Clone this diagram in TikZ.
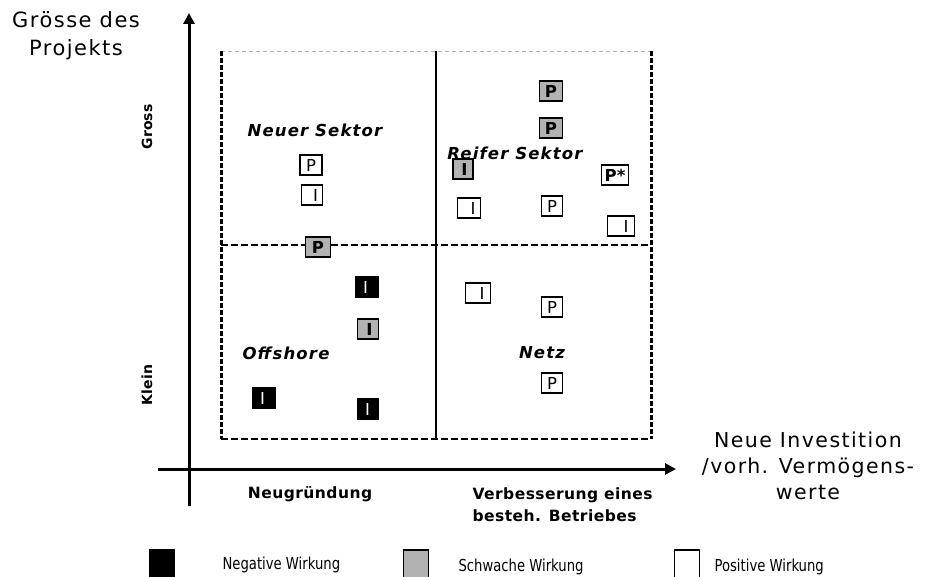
\documentclass[tikz,border=0pt]{standalone}
\usepackage{fontspec}
\usetikzlibrary{arrows.meta}
\newfontfamily\vf{DejaVu Sans}[LetterSpace=7]
\newfontfamily\vfm{DejaVu Sans}[LetterSpace=3]
\newfontfamily\vfl{DejaVu Sans}[LetterSpace=1]
\newfontfamily\legf{DejaVu Sans}[FakeStretch=0.8]
\definecolor{weakgray}{HTML}{B2B2B2}
\tikzset{
  cell/.style={draw, line width=1.4pt, minimum height=20pt, inner sep=0pt,
    font=\vfl\fontsize{16.5}{16.5}\selectfont},
  posbox/.style={cell, fill=white},
  weakbox/.style={cell, fill=weakgray, font=\vfl\bfseries\fontsize{16.5}{16.5}\selectfont},
  negbox/.style={cell, fill=black, text=white},
  quad/.style={font=\vf\bfseries\itshape\fontsize{16.5}{16.5}\selectfont},
  axislab/.style={font=\vf\fontsize{21}{28}\selectfont, align=center},
  catlab/.style={font=\vfm\bfseries\fontsize{15.5}{22}\selectfont},
  sizelab/.style={font=\vfl\bfseries\fontsize{14}{14}\selectfont, rotate=90},
  leglab/.style={font=\legf\fontsize{16.5}{16.5}\selectfont, anchor=west},
  legbox/.style={draw, line width=1.6pt, minimum width=25pt, minimum height=34pt, anchor=north, inner sep=0pt},
  axis/.style={line width=3pt, -{Triangle[length=11pt,width=11pt]}},
}
\begin{document}
\begin{tikzpicture}[x=1pt,y=-1pt]
\useasboundingbox (0,0) rectangle (925,577);
% frame coordinates
\coordinate (tl) at (221,51);
\coordinate (tr) at (651,51);
\coordinate (bl) at (221,439);
\coordinate (br) at (651,439);
\coordinate (ml) at (221,245);
\coordinate (mr) at (651,245);
\coordinate (dt) at (436,51);
\coordinate (db) at (436,439);
% axes
\coordinate (yb) at (189,506);
\coordinate (yt) at (189,13);
\coordinate (xl) at (158,469);
\coordinate (xr) at (676,469);
\draw[axis] (yb) -- (yt);
\draw[axis] (xl) -- (xr);
% frame
\draw[gray!60, line width=0.8pt, dash pattern=on 4pt off 3pt] (tl) -- (tr);
\draw[line width=3pt, dash pattern=on 5pt off 2pt] (tl) -- (bl);
\draw[line width=3pt, dash pattern=on 5pt off 2pt] (tr) -- (br);
\draw[line width=2.5pt, dash pattern=on 7pt off 3pt] (bl) -- (br);
\draw[line width=2.5pt, dash pattern=on 7pt off 3pt] (ml) -- (mr);
\draw[line width=1.2pt] (dt) -- (db);
% quadrant labels
\node[quad] (qneu) at (315,130) {Neuer Sektor};
\node[quad] (qrei) at (515,153) {Reifer Sektor};
\node[quad] (qoff) at (286,353) {Offshore};
\node[quad] (qnet) at (542,353) {Netz};
% boxes top-left
\node[posbox, minimum width=22pt] (p1) at (311,165) {P};
\node[posbox, minimum width=21pt] (i1) at (312,195) {\hspace*{7pt}I};
\node[weakbox, minimum width=25pt] (p2) at (318,247) {P};
% boxes top-right
\node[weakbox, minimum width=23pt] (p3) at (551,91) {P};
\node[weakbox, minimum width=23pt] (p4) at (551,128) {P};
\node[weakbox, minimum width=20pt] (i2) at (463,169) {\hspace*{3pt}I};
\node[posbox, minimum width=27pt, font=\vfl\bfseries\fontsize{16.5}{16.5}\selectfont] (p5) at (615,175) {P*};
\node[posbox, minimum width=23pt] (i3) at (469,208) {\hspace*{8pt}I};
\node[posbox, minimum width=21pt] (p6) at (552,206) {P};
\node[posbox, minimum width=27pt] (i4) at (621,226) {\hspace*{10pt}I};
% boxes bottom-left
\node[negbox, minimum width=23pt] (i5) at (367,287) {I\hspace*{3pt}};
\node[weakbox, minimum width=21pt] (i6) at (368,329) {\hspace*{3pt}I};
\node[negbox, minimum width=22pt] (i7) at (264,398) {I\hspace*{3pt}};
\node[negbox, minimum width=21pt] (i8) at (368,409) {I\hspace*{1pt}};
% boxes bottom-right
\node[posbox, minimum width=25pt] (i9) at (478,293) {\hspace*{8pt}I};
\node[posbox, minimum width=21pt] (p7) at (552,307) {P};
\node[posbox, minimum width=21pt] (p8) at (552,383) {P};
% axis labels
\node[axislab] (ylab) at (76,36) {Grösse des\\Projekts};
\node[axislab, font=\vf\fontsize{20.5}{26}\selectfont] (xlab) at (808,466) {Neue Investition\\/vorh. Vermögens-\\werte};
\node[sizelab] (gross) at (147,127) {Gross};
\node[sizelab] (klein) at (147,385) {Klein};
\node[catlab] (neug) at (310,494) {Neugründung};
\node[catlab, align=left, anchor=west] (verb) at (469,505) {Verbesserung eines\\besteh. Betriebes};
% legend
\node[legbox, fill=black] (lneg) at (162,549) {};
\node[leglab] (tneg) at (219,565) {Negative Wirkung};
\node[legbox, fill=weakgray] (lweak) at (416,549) {};
\node[leglab] (tweak) at (455,567) {Schwache Wirkung};
\node[legbox, fill=white] (lpos) at (687,549) {};
\node[leglab] (tpos) at (711,567) {Positive Wirkung};
\end{tikzpicture}
\end{document}
